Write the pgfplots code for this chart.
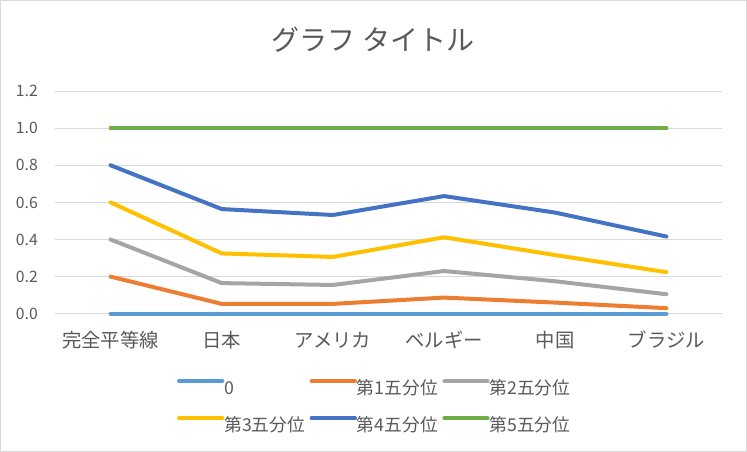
\documentclass[border=0pt]{standalone}
\usepackage{fontspec}
\setmainfont{Noto Sans CJK JP}
\usepackage{pgfplots}
\pgfplotsset{compat=1.18}
\definecolor{sA}{HTML}{5B9BD5}
\definecolor{sB}{HTML}{ED7D31}
\definecolor{sC}{HTML}{A5A5A5}
\definecolor{sD}{HTML}{FFC000}
\definecolor{sE}{HTML}{4472C4}
\definecolor{sF}{HTML}{70AD47}
\definecolor{txt}{HTML}{595959}
\definecolor{grd}{HTML}{D9D9D9}
\begin{document}
\begin{tikzpicture}[x=1pt,y=1pt]
\path[use as bounding box] (0,0) rectangle (560.25,339);
\draw[grd, line width=0.75pt] (0.375,0.375) rectangle (559.875,338.625);
\node[text=txt, font=\fontsize{21}{25}\selectfont] at (279.75,309) {グラフ タイトル};
\begin{axis}[
  at={(41.25pt,103.7pt)}, anchor=south west,
  scale only axis, width=500.25pt, height=167pt,
  xmin=-0.5, xmax=5.5, ymin=0, ymax=1.2,
  clip=false,
  xtick={0,1,2,3,4,5},
  xticklabels={完全平等線,日本,アメリカ,ベルギー,中国,ブラジル},
  ytick={0,0.2,0.4,0.6,0.8,1.0,1.2},
  yticklabel style={/pgf/number format/fixed, /pgf/number format/fixed zerofill, /pgf/number format/precision=1, /pgf/number format/assume math mode=true,
    anchor=east, inner sep=0pt, xshift=-12.75pt, text=txt, font=\fontsize{11.8}{14}\selectfont},
  xticklabel style={anchor=center, inner sep=0pt, yshift=-19.7pt, text=txt, font=\fontsize{14.5}{17}\selectfont},
  ymajorgrids, grid style={grd, line width=0.75pt},
  axis line style={draw=none}, tick style={draw=none},
  every axis plot/.append style={line width=3pt, line cap=round, line join=round, mark=none},
  legend columns=3, legend cell align=left,
  legend style={draw=none, fill=none, inner sep=0pt, outer sep=0pt,
    at={(0.1829,-0.2922)}, anchor=north west,
    column sep=0pt, row sep=13.95pt,
    nodes={inner sep=0pt, text width=64pt, text height=12pt, text depth=1.8pt,
      font=\fontsize{13.3}{16}\selectfont, text=txt}},
  legend image code/.code={\path (0pt,5.1pt) -- (32.5pt,5.1pt);\draw[#1] (1.5pt,5.1pt) -- (31pt,5.1pt);},
]
\addplot[sA] coordinates {(0,0) (1,0) (2,0) (3,0) (4,0) (5,0)};
\addlegendentry{0}
\addplot[sB] coordinates {(0,0.2) (1,0.053) (2,0.053) (3,0.087) (4,0.06) (5,0.03)};
\addlegendentry{第1五分位}
\addplot[sC] coordinates {(0,0.4) (1,0.165) (2,0.155) (3,0.23) (4,0.175) (5,0.105)};
\addlegendentry{第2五分位}
\addplot[sD] coordinates {(0,0.6) (1,0.325) (2,0.306) (3,0.412) (4,0.316) (5,0.224)};
\addlegendentry{第3五分位}
\addplot[sE] coordinates {(0,0.8) (1,0.564) (2,0.532) (3,0.634) (4,0.545) (5,0.416)};
\addlegendentry{第4五分位}
\addplot[sF] coordinates {(0,1) (1,1) (2,1) (3,1) (4,1) (5,1)};
\addlegendentry{第5五分位}
\end{axis}
\end{tikzpicture}
\end{document}
